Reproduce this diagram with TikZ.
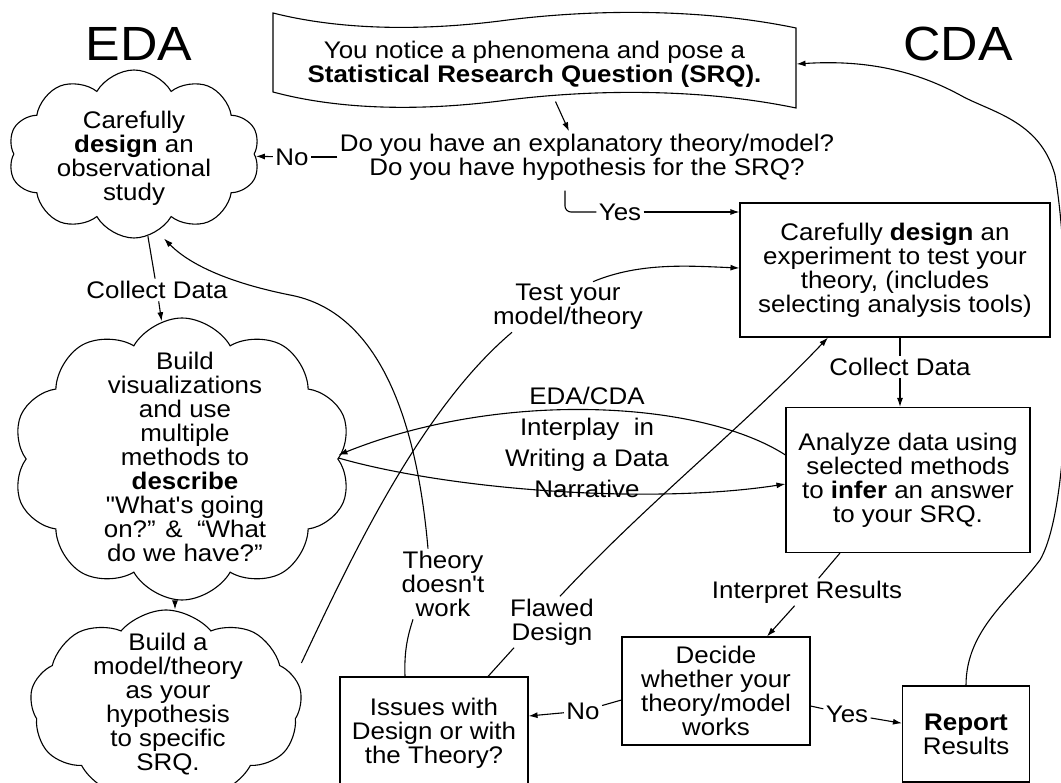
\documentclass[tikz,border=0pt]{standalone}
\usepackage{fontspec}
\setmainfont{Liberation Sans}[FakeStretch=1.08, Ligatures=TeXOff]
\usetikzlibrary{shapes, arrows.meta, positioning, calc}

\begin{document}
\begin{tikzpicture}[x=1pt, y=-1pt, line width=1.1pt,
                >={Latex[length=9pt,width=6pt]},
                every node/.style={font=\fontsize{24}{24}\selectfont, align=center, inner sep=2pt},
                box/.style={rectangle, draw, line width=1.1pt},
                puff/.style={cloud, draw, cloud puffs=10, cloud puff arc=120, cloud ignores aspect, inner sep=0pt, line width=1.1pt},
                big/.style={font=\fontsize{48}{48}\selectfont}]
                \path[use as bounding box, fill=white] (0,0) rectangle (1061,783);

                \node[big] (eda) at (139,44) {EDA};
                \node[big] (cda) at (958,44) {CDA};

                % question on top
                \node[minimum width=523pt, minimum height=84pt] (srq) at (534.5,64) {You notice a phenomena and pose a\\\textbf{Statistical Research Question (SRQ).}};
                \draw (273,13) .. controls (340,30) and (420,31) .. (500,21) .. controls (590,9) and (700,8) .. (796,28) -- (796,108)
                      .. controls (700,88) and (590,89) .. (500,101) .. controls (420,111) and (340,110) .. (273,92) -- cycle;
                \node (question) at (587,157) {Do you have an explanatory theory/model?\\Do you have hypothesis for the SRQ?};
                \draw[->] ([xshift=21pt, yshift=5pt]srq.south) -- ([xshift=-18pt]question.north);

                % EDA side
                \node[puff, minimum width=252pt, minimum height=168pt] (obs) at (134,154) {};
                \node (obstext) at (134,158) {Carefully\\\textbf{design} an\\observational\\study};
                \node[puff, minimum width=339pt, minimum height=282pt] (viz) at (182,459) {};
                \node (viztext) at (185,457) {Build\\visualizations\\and use\\multiple\\methods to\\\textbf{describe}\\"What's going\\on?” \&\ \ “What\\do we have?”};
                \node[puff, cloud puffs=9, cloud puff arc=100, minimum width=272pt, minimum height=190pt] (hypo) at (166,705) {};
                \node (hypotext) at (168,704) {Build a\\model/theory\\as your\\hypothesis\\to specific\\SRQ.};

                % CDA side
                \node[box, minimum width=310pt, minimum height=134pt] (plan) at (895,270) {Carefully \textbf{design} an\\experiment to test your\\theory, (includes\\selecting analysis tools)};
                \node[box, minimum width=244pt, minimum height=145pt] (analyze) at (908,480) {Analyze data using\\selected methods\\to \textbf{infer} an answer\\to your SRQ.};
                \node[box, minimum width=188pt, minimum height=108pt] (decide) at (716,691) {Decide\\whether your\\theory/model\\works};
                \node[box, minimum width=127pt, minimum height=96pt] (report) at (966,734) {\textbf{Report}\\Results};
                \node[box, minimum width=188pt, minimum height=112pt] (issues) at (434,733) {Issues with\\Design or with\\the Theory?};

                % labels
                \node (nolbl) at (292,157) {No};
                \node (yeslbl) at (620,212) {Yes};
                \node (collectL) at (157,290) {Collect Data};
                \node (collectR) at (900,367) {Collect Data};
                \node (test) at (568,307) {Test your\\model/theory};
                \node[font=\fontsize{24}{31}\selectfont] (interplay) at (587,442) {EDA/CDA\\Interplay\ \ in\\Writing a Data\\Narrative};
                \node (interp) at (807,592) {Interpret Results};
                \node (yesres) at (847,714) {Yes};
                \node (noiss) at (583,711) {No};
                \node (theory) at (443,584) {Theory\\doesn't\\work};
                \node (flawed) at (552,622) {Flawed\\Design};

                \draw (question) -- (nolbl);
                \draw[->] (nolbl) -- (obs);
                \draw[rounded corners=6pt] ([xshift=-22pt, yshift=-8pt]question.south) |- (yeslbl);
                \draw[->] (yeslbl) -- (yeslbl -| plan.west);

                \draw (obs) -- (collectL);
                \draw[->] (collectL) -- (viz);
                \draw[->] ([xshift=-7pt]viz.south) -- ([xshift=9pt]hypo.north);

                \draw ([yshift=42pt]hypo.east) .. controls (350,560) and (420,410) .. ([xshift=-56pt]test.south);
                \draw[->] ([xshift=25pt]test.north) .. controls (640,262) and (690,266) .. ([yshift=2pt]plan.west);

                \draw (plan.south -| collectR) -- (collectR);
                \draw[->] (collectR) -- (collectR |- analyze.north);

                \draw[->] ([yshift=25pt]analyze.west) .. controls (700,400) and (500,390) .. ([yshift=4pt]viz.east);
                \draw[->] ([yshift=1pt]viz.east) .. controls (450,490) and (650,505) .. ([yshift=-4pt]analyze.west);

                \draw ([xshift=-68pt]analyze.south) -- (interp);
                \draw[->] (interp) -- ([xshift=51pt]decide.north);
                \draw ([yshift=-15pt]decide.east) -- (yesres);
                \draw[->] (yesres) -- (report);
                \draw ([yshift=-9pt]decide.west) -- (noiss);
                \draw[->] (noiss) -- ([yshift=17pt]issues.east);

                \draw ([xshift=-29pt]issues.north) .. controls (404,650) and (408,635) .. ([xshift=-30pt]theory.south);
                \draw[->] ([xshift=-15pt]theory.north) .. controls (415,400) and (370,310) .. (290,295)
                          .. controls (230,283) and (190,265) .. ([xshift=30pt]obs.south);
                \draw ([xshift=54pt]issues.north) -- ([xshift=-38pt]flawed.south);
                \draw[->] ([xshift=8pt]flawed.north) .. controls (650,500) and (740,430) .. ([xshift=-67pt]plan.south);

                \draw[->] (report.north) .. controls (966,630) and (1010,600) .. (1040,560)
                          .. controls (1075,500) and (1070,260) .. (1055,175)
                          .. controls (1040,120) and (990,112) .. (960,95)
                          .. controls (910,68) and (860,60) .. (srq.east);
            \end{tikzpicture}
\end{document}
